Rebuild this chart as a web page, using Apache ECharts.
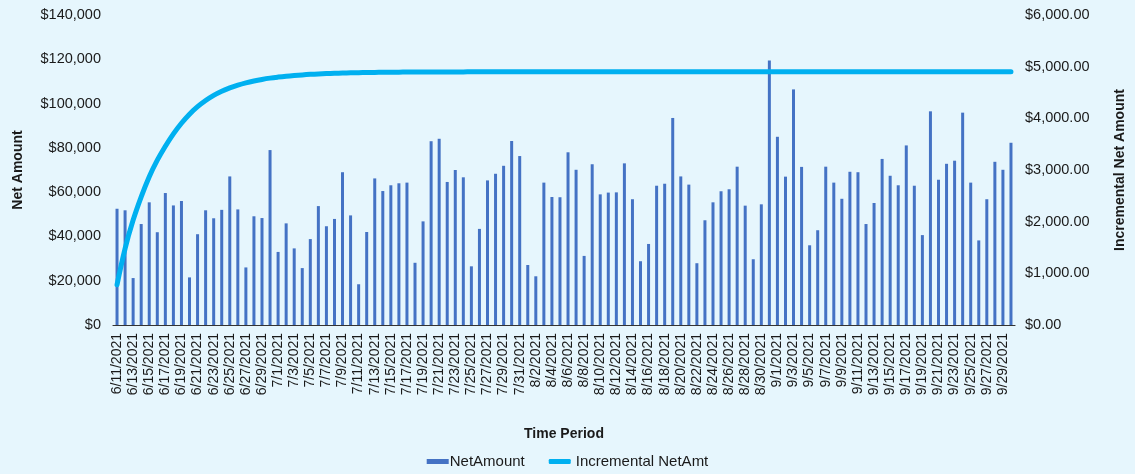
<!DOCTYPE html>
<html>
<head>
<meta charset="utf-8">
<script src="https://cdn.jsdelivr.net/npm/echarts@6/dist/echarts.min.js"></script>
<style>
html,body{margin:0;padding:0;background:#E6F6FD;}
#chart{width:1135px;height:474px;}
</style>
</head>
<body>
<div id="chart"></div>
<script>
var categories = [
'6/11/2021','6/12/2021','6/13/2021','6/14/2021','6/15/2021','6/16/2021','6/17/2021','6/18/2021','6/19/2021','6/20/2021',
'6/21/2021','6/22/2021','6/23/2021','6/24/2021','6/25/2021','6/26/2021','6/27/2021','6/28/2021','6/29/2021','6/30/2021',
'7/1/2021','7/2/2021','7/3/2021','7/4/2021','7/5/2021','7/6/2021','7/7/2021','7/8/2021','7/9/2021','7/10/2021',
'7/11/2021','7/12/2021','7/13/2021','7/14/2021','7/15/2021','7/16/2021','7/17/2021','7/18/2021','7/19/2021','7/20/2021',
'7/21/2021','7/22/2021','7/23/2021','7/24/2021','7/25/2021','7/26/2021','7/27/2021','7/28/2021','7/29/2021','7/30/2021',
'7/31/2021','8/1/2021','8/2/2021','8/3/2021','8/4/2021','8/5/2021','8/6/2021','8/7/2021','8/8/2021','8/9/2021',
'8/10/2021','8/11/2021','8/12/2021','8/13/2021','8/14/2021','8/15/2021','8/16/2021','8/17/2021','8/18/2021','8/19/2021',
'8/20/2021','8/21/2021','8/22/2021','8/23/2021','8/24/2021','8/25/2021','8/26/2021','8/27/2021','8/28/2021','8/29/2021',
'8/30/2021','8/31/2021','9/1/2021','9/2/2021','9/3/2021','9/4/2021','9/5/2021','9/6/2021','9/7/2021','9/8/2021',
'9/9/2021','9/10/2021','9/11/2021','9/12/2021','9/13/2021','9/14/2021','9/15/2021','9/16/2021','9/17/2021','9/18/2021',
'9/19/2021','9/20/2021','9/21/2021','9/22/2021','9/23/2021','9/24/2021','9/25/2021','9/26/2021','9/27/2021','9/28/2021',
'9/29/2021','9/30/2021'
];
var netAmount = [
52500,51800,21200,45600,55400,41900,59600,54000,56000,21500,
41000,51800,48200,52000,67100,52200,26000,49100,48300,79000,
33000,45900,34600,25700,38800,53700,44600,47900,69000,49500,
18400,42000,66200,60500,63100,64000,64300,28100,46800,83000,
84100,64600,70000,66700,26500,43400,65300,68300,71900,83100,
76300,27100,22000,64300,57800,57700,78000,70100,31200,72600,
59000,59800,59900,73000,56800,28800,36600,62900,63800,93500,
67100,63400,27900,47300,55400,60400,61300,71500,53900,29700,
54500,119400,85000,67000,106400,71400,36000,42800,71500,64300,
57000,69200,69000,45600,55100,75000,67400,63100,81100,62900,
40600,96500,65600,72800,74200,95900,64300,38200,56800,73700,
70100,82300
];
var incrementalNetAmt = [
780,1480,2030,2480,2870,3190,3460,3700,3905,4080,
4225,4345,4445,4525,4590,4643,4687,4723,4753,4778,
4798,4815,4829,4841,4851,4859,4866,4872,4877,4881,
4884,4887,4889,4891,4893,4894,4895,4896,4897,4898,
4898,4899,4899,4899,4900,4900,4900,4900,4900,4900,
4900,4900,4900,4900,4900,4900,4900,4900,4900,4900,
4900,4900,4900,4900,4900,4900,4900,4900,4900,4900,
4900,4900,4900,4900,4900,4900,4900,4900,4900,4900,
4900,4900,4900,4900,4900,4900,4900,4900,4900,4900,
4900,4900,4900,4900,4900,4900,4900,4900,4900,4900,
4900,4900,4900,4900,4900,4900,4900,4900,4900,4900,
4900,4900
];
var seriesNames = ['NetAmount', 'Incremental NetAmt'];
var axisNames = ['Time Period', 'Net Amount', 'Incremental Net Amount'];

var font = 'Liberation Sans, Arial, sans-serif';
var txt = '#1a1a1a';
var chart = echarts.init(document.getElementById('chart'), null, {renderer: 'canvas'});
chart.setOption({
  backgroundColor: '#E6F6FD',
  animation: false,
  textStyle: {fontFamily: font},
  grid: {left: 113, right: 115, top: 15, bottom: 149, containLabel: false},
  legend: {
    bottom: 0, left: 'center', itemGap: 24, itemWidth: 22, itemHeight: 5,
    textStyle: {fontSize: 15, color: txt, fontFamily: font},
    data: [
      {name: seriesNames[0], icon: 'rect', textStyle: {padding: [0, 0, 0, -4]}},
      {name: seriesNames[1], icon: 'roundRect', itemStyle: {color: '#00B0F0'}}
    ]
  },
  xAxis: {
    type: 'category', data: categories,
    name: axisNames[0], nameLocation: 'middle', nameGap: 102,
    nameTextStyle: {fontSize: 14, fontWeight: 'bold', color: txt},
    axisLine: {lineStyle: {color: '#333', width: 1.2}},
    axisTick: {show: false},
    axisLabel: {interval: 1, rotate: 90, fontSize: 14, color: txt, margin: 8}
  },
  yAxis: [
    {
      type: 'value', min: 0, max: 140000, interval: 20000,
      name: axisNames[1], nameLocation: 'middle', nameGap: 88,
      nameTextStyle: {fontSize: 14, fontWeight: 'bold', color: txt},
      splitLine: {show: false}, axisLine: {show: false}, axisTick: {show: false},
      axisLabel: {fontSize: 14.5, color: txt, margin: 12,
        formatter: function (v) { return '$' + v.toLocaleString('en-US'); }}
    },
    {
      type: 'value', min: 0, max: 6000, interval: 1000, position: 'right',
      name: axisNames[2], nameLocation: 'middle', nameGap: 98,
      nameTextStyle: {fontSize: 14, fontWeight: 'bold', color: txt},
      splitLine: {show: false}, axisLine: {show: false}, axisTick: {show: false},
      axisLabel: {fontSize: 14.5, color: txt, margin: 10,
        formatter: function (v) { return '$' + v.toLocaleString('en-US', {minimumFractionDigits: 2, maximumFractionDigits: 2}); }}
    }
  ],
  series: [
    {
      name: seriesNames[0], type: 'bar', data: netAmount, yAxisIndex: 0,
      barWidth: 3, itemStyle: {color: '#4472C4'}
    },
    {
      name: seriesNames[1], type: 'line', data: incrementalNetAmt, yAxisIndex: 1,
      smooth: 0.4, showSymbol: false, symbol: 'none',
      lineStyle: {color: '#00B0F0', width: 5, cap: 'round', join: 'round'},
      itemStyle: {color: '#00B0F0'}
    }
  ]
});
</script>
</body>
</html>
